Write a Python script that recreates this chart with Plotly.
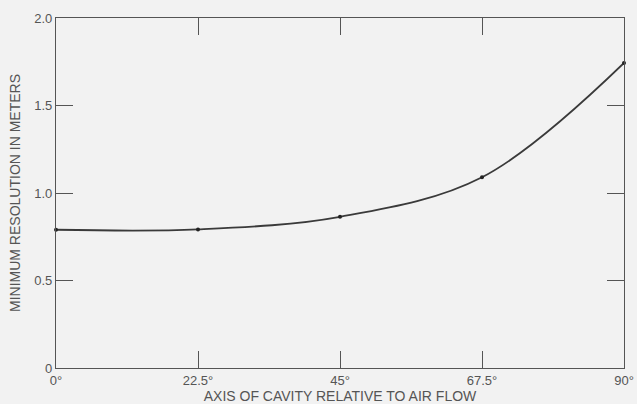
import plotly.graph_objects as go

angles = [0, 22.5, 45, 67.5, 90]
resolution = [0.79, 0.792, 0.864, 1.09, 1.743]
x_tick_vals = [0, 22.5, 45, 67.5, 90]
x_tick_text = ["0°", "22.5°", "45°", "67.5°", "90°"]
y_tick_vals = [0, 0.5, 1.0, 1.5, 2.0]
y_tick_text = ["0", "0.5", "1.0", "1.5", "2.0"]

ink = "#3a3a3a"
txt = "#555555"

fig = go.Figure()
fig.add_trace(go.Scatter(
    x=angles, y=resolution, mode="lines+markers",
    line=dict(color=ink, width=1.8, shape="spline", smoothing=1.0),
    marker=dict(color="#222222", size=4),
    cliponaxis=False, showlegend=False,
))

axis_common = dict(
    showgrid=False, zeroline=False, showline=True, linecolor="#555555", linewidth=1.3,
    ticks="inside", ticklen=17, tickwidth=1.2, tickcolor="#555555", mirror="ticks",
    tickfont=dict(family="Liberation Sans", size=13, color=txt), automargin=False,
)

fig.update_layout(
    width=637, height=404,
    margin=dict(l=56, r=13, t=18, b=36),
    paper_bgcolor="#f2f2f2", plot_bgcolor="#f2f2f2",
    xaxis=dict(range=[0, 90], tickvals=x_tick_vals, ticktext=x_tick_text,
               title=dict(text="AXIS OF CAVITY RELATIVE TO AIR FLOW", standoff=0,
                          font=dict(family="Liberation Sans", size=14, color=txt)),
               **axis_common),
    yaxis=dict(range=[0, 2.0], tickvals=y_tick_vals, ticktext=y_tick_text,
               title=dict(text="MINIMUM RESOLUTION IN METERS", standoff=10,
                          font=dict(family="Liberation Sans", size=14, color=txt)),
               **axis_common),
)

fig.write_html("out.html")
